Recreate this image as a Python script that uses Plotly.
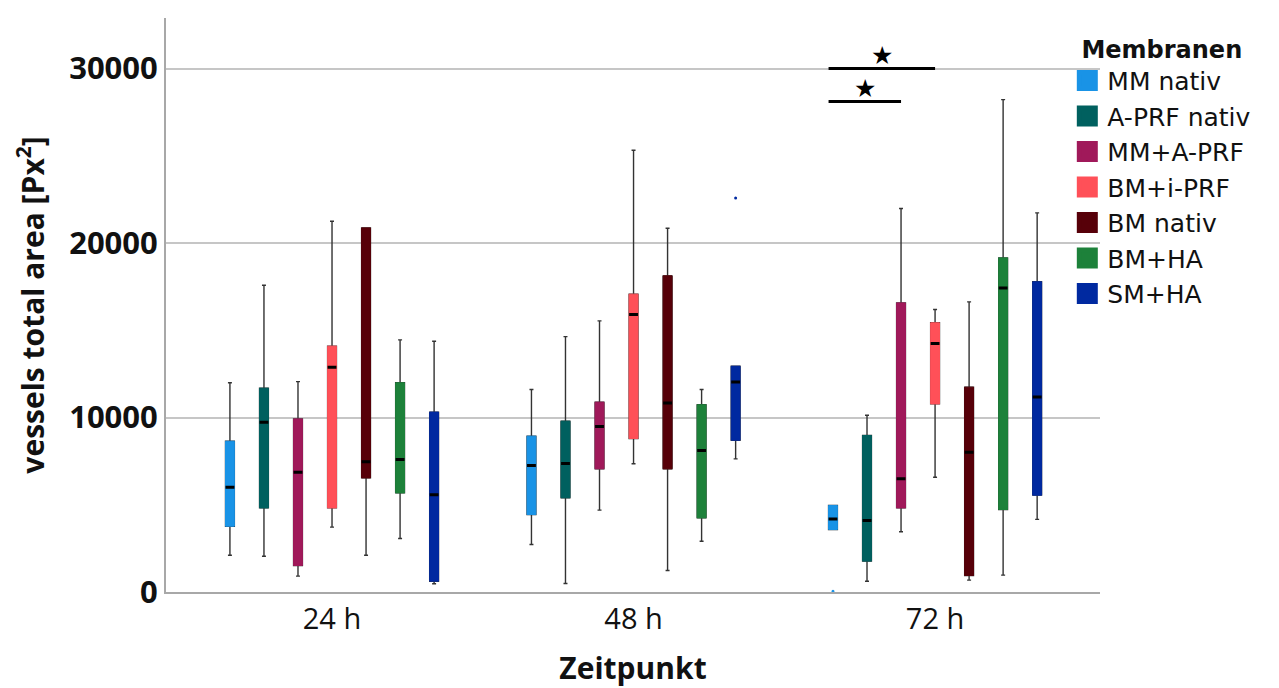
import plotly.graph_objects as go

# ---------------- data ----------------
timepoints = ['24 h', '48 h', '72 h']
groups = ['MM nativ', 'A-PRF nativ', 'MM+A-PRF', 'BM+i-PRF', 'BM nativ', 'BM+HA', 'SM+HA']
colors = ['#1993E6', '#00605F', '#A0195A', '#FF5058', '#570009', '#1D813A', '#0029A0']

lower = {
    'MM nativ':    [2110, 2720, 3580],
    'A-PRF nativ': [2050, 490, 620],
    'MM+A-PRF':    [910, 4690, 3450],
    'BM+i-PRF':    [3720, 7350, 6580],
    'BM nativ':    [2110, 1230, 680],
    'BM+HA':       [3070, 2910, 970],
    'SM+HA':       [470, 7630, 4160],
}
q1 = {
    'MM nativ':    [3770, 4440, 3580],
    'A-PRF nativ': [4820, 5400, 1770],
    'MM+A-PRF':    [1520, 7060, 4820],
    'BM+i-PRF':    [4820, 8800, 10780],
    'BM nativ':    [6540, 7060, 950],
    'BM+HA':       [5680, 4250, 4730],
    'SM+HA':       [620, 8700, 5550],
}
median = {
    'MM nativ':    [6010, 7250, 4190],
    'A-PRF nativ': [9730, 7360, 4100],
    'MM+A-PRF':    [6870, 9480, 6490],
    'BM+i-PRF':    [12880, 15900, 14240],
    'BM nativ':    [7460, 10840, 8010],
    'BM+HA':       [7590, 8110, 17430],
    'SM+HA':       [5570, 12030, 11170],
}
q3 = {
    'MM nativ':    [8640, 8930, 4960],
    'A-PRF nativ': [11680, 9790, 8970],
    'MM+A-PRF':    [9920, 10880, 16570],
    'BM+i-PRF':    [14090, 17070, 15430],
    'BM nativ':    [20870, 18120, 11740],
    'BM+HA':       [11990, 10730, 19150],
    'SM+HA':       [10310, 12940, 17780],
}
upper = {
    'MM nativ':    [11990, 11610, 4960],
    'A-PRF nativ': [17580, 14640, 10130],
    'MM+A-PRF':    [12060, 15540, 21980],
    'BM+i-PRF':    [21250, 25320, 16190],
    'BM nativ':    [20870, 20850, 16630],
    'BM+HA':       [14450, 11610, 28220],
    'SM+HA':       [14370, 12940, 21730],
}
# outliers: (group, timepoint, value)
outlier_groups = ['MM nativ', 'SM+HA']
outlier_times = ['72 h', '48 h']
outlier_values = [50, 22590]

# significance brackets at 72 h: (group a, group b, height)
sig_time = '72 h'
sig_pairs = [('MM nativ', 'BM+i-PRF', 30000), ('MM nativ', 'MM+A-PRF', 28110)]

# ---------------- figure ----------------
boxgap = 0.21
boxgroupgap = 0.74
n = len(groups)
slot = (1 - boxgap) / n
half_box = slot * (1 - boxgroupgap) / 2
xrange = [-0.5506, 2.547]


def center(ti, gi):
    return ti - (1 - boxgap) / 2 + (gi + 0.5) * slot


fig = go.Figure()
for gi, (g, c) in enumerate(zip(groups, colors)):
    kw = dict(x=timepoints, offsetgroup=str(gi), hoverinfo='skip', showlegend=False,
              boxpoints=False)
    # whiskers
    fig.add_trace(go.Box(**kw, q1=q1[g], median=median[g], q3=q3[g],
                         lowerfence=lower[g], upperfence=upper[g],
                         line=dict(color='#333333', width=1.4), fillcolor='rgba(0,0,0,0)',
                         whiskerwidth=0.45))
    # coloured box
    fig.add_trace(go.Box(**kw, q1=q1[g], median=q1[g], q3=q3[g], lowerfence=q1[g], upperfence=q3[g],
                         line=dict(color=c, width=1), fillcolor=c, whiskerwidth=0))
    # median
    fig.add_trace(go.Box(**kw, q1=median[g], median=median[g], q3=median[g],
                         lowerfence=median[g], upperfence=median[g],
                         line=dict(color='black', width=3), whiskerwidth=0))

# outliers on an overlaid numeric axis aligned with the category axis
fig.add_trace(go.Scatter(
    x=[center(timepoints.index(t), groups.index(g)) for g, t in zip(outlier_groups, outlier_times)],
    y=outlier_values, xaxis='x2', mode='markers', showlegend=False, hoverinfo='skip',
    marker=dict(size=3, color=[colors[groups.index(g)] for g in outlier_groups])))

# legend entries
for g, c in zip(groups, colors):
    fig.add_trace(go.Scatter(x=[None], y=[None], mode='markers', name=g,
                             marker=dict(symbol='square', size=16, color=c,
                                         line=dict(color=c, width=5))))

ti = timepoints.index(sig_time)
for a, b, h in sig_pairs:
    x0 = center(ti, groups.index(a)) - half_box
    x1 = center(ti, groups.index(b))
    fig.add_shape(type='line', x0=x0, x1=x1, y0=h, y1=h, xref='x2', yref='y',
                  line=dict(color='black', width=3))
    fig.add_annotation(x=(x0 + x1) / 2, y=h, xref='x2', text='★', showarrow=False,
                       yanchor='middle', yshift=13,
                       font=dict(family='DejaVu Sans', size=25, color='black'))

fig.update_layout(
    width=1279, height=688,
    margin=dict(l=166, r=179, t=18, b=96),
    paper_bgcolor='white', plot_bgcolor='white',
    boxmode='group', boxgap=boxgap, boxgroupgap=boxgroupgap,
    showlegend=True,
    legend=dict(
        x=0.965, xanchor='left', y=0.985, yanchor='top',
        tracegroupgap=0, bgcolor='rgba(0,0,0,0)',
        font=dict(family='DejaVu Sans', size=25, color='#111'),
        title=dict(text='Membranen', side='top center',
                   font=dict(family='DejaVu Sans', size=24, color='#111', weight='bold')),
    ),
    xaxis=dict(
        type='category', range=xrange, automargin=False,
        showgrid=False, showline=True, linecolor='#A8A8A8', linewidth=2,
        ticks='', tickfont=dict(family='Open Sans', size=29, color='#111'),
        title=dict(text='Zeitpunkt', standoff=24,
                   font=dict(family='Open Sans', size=30, color='#111', weight='bold')),
    ),
    xaxis2=dict(overlaying='x', range=xrange, visible=False, showgrid=False, zeroline=False),
    yaxis=dict(
        range=[0, 32900], tickvals=[0, 10000, 20000, 30000], tickformat='d', automargin=False,
        showgrid=True, gridcolor='#C6C6C6', gridwidth=1.5, zeroline=False,
        showline=True, linecolor='#A8A8A8', linewidth=2,
        ticks='', ticklabelstandoff=0,
        tickfont=dict(family='Open Sans', size=31, color='#111', weight='bold'),
        title=dict(text='vessels total area [Px<sup>2</sup>]', standoff=16,
                   font=dict(family='Open Sans', size=30, color='#111', weight='bold')),
    ),
)

fig.write_html('out.html')
